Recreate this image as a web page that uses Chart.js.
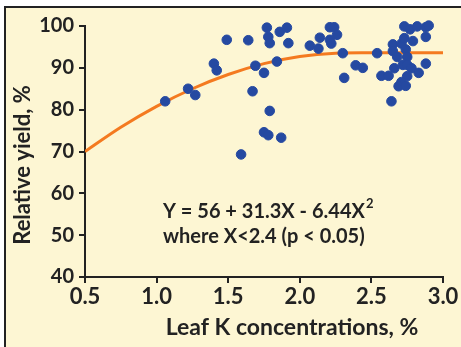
<!DOCTYPE html>
<html lang="en">
<head>
  <meta charset="UTF-8">
  <title>Relative yield vs leaf K</title>
  <script src="https://cdn.jsdelivr.net/npm/chart.js"></script>
  <style>
    body {
      margin: 0;
      background: #fff;
    }
    #frame {
      position: absolute;
      left: 4px;
      top: 6px;
      width: 457px;
      height: 341px;
      background: #fdf6d3;
      border-top: 2px solid #222;
      border-left: 2px solid #222;
      box-sizing: border-box;
    }
    #wrap {
      position: absolute;
      left: 0;
      top: 0;
      width: 461px;
      height: 347px;
    }
  </style>
</head>
<body>
  <div id="frame"></div>
  <div id="wrap"><canvas id="chart"></canvas></div>

  <script>
    // leaf K (%) and relative yield (%)
    const leafK = [1.06, 1.22, 1.27, 1.40, 1.42, 1.49, 1.59, 1.64, 1.67, 1.69, 1.75,
      1.77, 1.78, 1.79, 1.79, 1.75, 1.78, 1.87, 1.86, 1.91, 1.92, 1.84,
      2.07, 2.14, 2.13, 2.21, 2.24, 2.26, 2.21, 2.22, 2.30, 2.31, 2.39, 2.44,
      2.54, 2.57, 2.62, 2.64, 2.66, 2.65, 2.65, 2.68, 2.71, 2.73, 2.74, 2.73,
      2.77, 2.82, 2.79, 2.88, 2.90, 2.88, 2.75, 2.72, 2.75, 2.78, 2.75, 2.71,
      2.69, 2.74, 2.83, 2.88];
    const yieldPct = [82.0, 85.0, 83.5, 91.0, 89.4, 96.7, 69.3, 96.6, 84.4, 90.5, 88.8,
      99.6, 97.4, 95.9, 79.7, 74.6, 73.9, 73.3, 98.6, 99.6, 95.9, 91.5,
      95.3, 97.2, 94.6, 99.7, 99.7, 97.9, 96.7, 95.8, 93.5, 87.6, 90.6, 90.0,
      93.5, 88.1, 88.1, 82.0, 89.9, 95.6, 94.0, 92.6, 95.8, 97.1, 94.4, 99.9,
      99.2, 99.9, 96.4, 99.7, 100.1, 97.4, 92.6, 90.7, 90.7, 89.9, 88.0, 86.6,
      85.6, 85.7, 88.8, 91.0];

    // fitted curve, read at a few X positions
    const curveX = [0.5, 0.75, 1.0, 1.25, 1.5, 1.75, 2.0, 2.25, 2.43, 2.7, 3.0];
    const curveY = [70.0, 75.8, 80.8, 85.0, 88.4, 91.0, 92.7, 93.5, 93.6, 93.6, 93.6];

    const xTicks = [0.5, 1.0, 1.5, 2.0, 2.5, 3.0];
    const yTicks = [40, 50, 60, 70, 80, 90, 100];

    const ink = '#222';
    const font = 'Lato';

    // equation and axis titles drawn as canvas text
    const chartText = {
      id: 'chartText',
      afterDraw(chart) {
        const ctx = chart.ctx;
        ctx.save();
        ctx.fillStyle = ink;
        ctx.textBaseline = 'alphabetic';
        ctx.textAlign = 'left';
        ctx.font = 'bold 20px ' + font;
        const line1 = 'Y = 56 + 31.3X - 6.44X';
        ctx.fillText(line1, 163, 218);
        const w = ctx.measureText(line1).width;
        ctx.font = 'bold 13px ' + font;
        ctx.fillText('2', 163 + w + 1, 208);
        ctx.font = 'bold 20px ' + font;
        ctx.fillText('where X<2.4 (p < 0.05)', 163, 243);

        ctx.textAlign = 'center';
        ctx.font = 'bold 23px ' + font;
        ctx.fillText('Leaf K concentrations, %', 292, 335);

        ctx.translate(30, 165);
        ctx.rotate(-Math.PI / 2);
        ctx.font = 'bold 22px ' + font;
        ctx.fillText('Relative yield, %', 0, 0);
        ctx.restore();
      }
    };

    new Chart(document.getElementById('chart'), {
      type: 'scatter',
      data: {
        datasets: [{
          label: 'Observations',
          data: leafK.map((x, i) => ({ x: x, y: yieldPct[i] })),
          backgroundColor: '#2549a1',
          borderColor: '#2549a1',
          pointRadius: 4.8,
          clip: false,
          order: 0
        }, {
          type: 'line',
          label: 'Fit',
          data: curveX.map((x, i) => ({ x: x, y: curveY[i] })),
          borderColor: '#f47a20',
          borderWidth: 3,
          pointRadius: 0,
          fill: false,
          cubicInterpolationMode: 'monotone',
          order: 1
        }]
      },
      options: {
        responsive: true,
        maintainAspectRatio: false,
        animation: false,
        layout: { padding: { top: 26, right: 18, left: 0, bottom: 0 } },
        plugins: {
          legend: { display: false },
          tooltip: { enabled: false }
        },
        scales: {
          x: {
            type: 'linear',
            min: 0.5,
            max: 3.0,
            afterBuildTicks: (s) => { s.ticks = xTicks.map(v => ({ value: v })); },
            afterFit: (s) => { s.height = 70; },
            ticks: {
              color: ink,
              font: { family: font, size: 22, weight: 'bold' },
              padding: 1,
              maxRotation: 0,
              callback: (v) => v.toFixed(1)
            },
            grid: { display: true, drawOnChartArea: false, drawTicks: true, tickLength: 6, color: ink, lineWidth: 2 },
            border: { display: true, color: ink, width: 2 }
          },
          y: {
            min: 40,
            max: 100,
            afterBuildTicks: (s) => { s.ticks = yTicks.map(v => ({ value: v })); },
            afterFit: (s) => { s.width = 85; },
            ticks: {
              color: ink,
              font: { family: font, size: 20, weight: 'bold' },
              padding: 5
            },
            grid: { display: true, drawOnChartArea: false, drawTicks: true, tickLength: 6, color: ink, lineWidth: 2 },
            border: { display: true, color: ink, width: 2 }
          }
        }
      },
      plugins: [chartText]
    });
  </script>
</body>
</html>
